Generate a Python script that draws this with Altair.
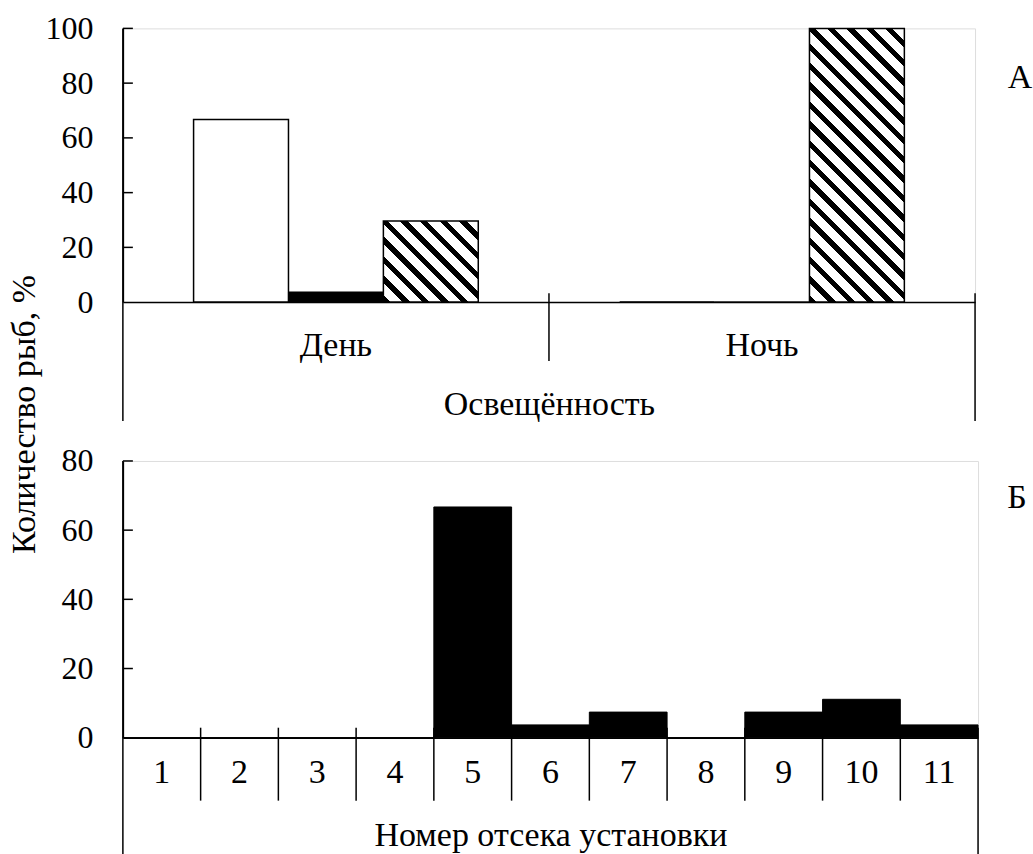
import altair as alt
import pandas as pd

# ---------------- data ----------------
light = ["День", "Ночь"]
series = ["s1", "s2", "s3"]          # white, black, hatched
day_vals = [66.7, 3.7, 29.6]
night_vals = [0.0, 0.0, 100.0]
top_ticks = [20, 40, 60, 80, 100]
top_labels = [0, 20, 40, 60, 80, 100]

sections = ["1", "2", "3", "4", "5", "6", "7", "8", "9", "10", "11"]
section_vals = [0.0, 0.0, 0.0, 0.0, 66.7, 3.7, 7.4, 0.0, 7.4, 11.1, 3.7]
bottom_ticks = [20, 40, 60, 80]
bottom_labels = [0, 20, 40, 60, 80]

FONT = "Liberation Serif"
FS = 34      # titles / category labels
FT = 32      # y tick labels

W1, H1 = 853, 274
W2, H2 = 856, 277
OUTER = 0.745

rows = []
for s, v in zip(series, day_vals):
    rows.append({"light": "День", "series": s, "value": v})
for s, v in zip(series, night_vals):
    rows.append({"light": "Ночь", "series": s, "value": v})
df_top = pd.DataFrame(rows)
df_bot = pd.DataFrame({"sec": sections, "value": section_vals})


def hatch(w, h, period=19.0, frac=0.38):
    k = (w + h) / (w * w + h * h)
    x2, y2 = k * w, 1 - k * h
    n = max(1, int(round((w + h) / period)))
    stops = []
    for i in range(n):
        a = i / n
        b = (i + frac) / n
        c = (i + 1) / n
        stops += [
            {"offset": a, "color": "black"},
            {"offset": b, "color": "black"},
            {"offset": b, "color": "white"},
            {"offset": c, "color": "white"},
        ]
    return {"gradient": "linear", "x1": 0, "y1": 1, "x2": x2, "y2": y2, "stops": stops}


bar_w = (W1 / 2) / (3 + 2 * OUTER)
grad_day = hatch(bar_w, day_vals[2] / 100 * H1)
grad_night = hatch(bar_w, night_vals[2] / 100 * H1)

# ---------------- top panel ----------------
x_top = alt.X(
    "light:N", sort=light,
    scale=alt.Scale(domain=light, paddingInner=0, paddingOuter=0),
    axis=alt.Axis(title="Освещённость", labelAngle=0, ticks=False, labelPadding=26,
                  titlePadding=25, domainColor="black", domainWidth=1.5,
                  labelFont=FONT, titleFont=FONT, labelFontSize=FS, titleFontSize=FS,
                  labelColor="black", titleColor="black", titleFontWeight="normal"),
)
xo_top = alt.XOffset("series:N", scale=alt.Scale(domain=series, paddingInner=0, paddingOuter=OUTER))
y_top = alt.Y(
    "value:Q", scale=alt.Scale(domain=[0, 100], nice=False),
    axis=alt.Axis(values=top_labels, ticks=False, grid=False, labelPadding=30,
                  domainColor="black", domainWidth=1.5,
                  labelFont=FONT, labelFontSize=FT, labelColor="black",
                  title="Количество рыб, %", titleFont=FONT, titleFontSize=FS,
                  titleColor="black", titleFontWeight="normal",
                  titleX=-98, titleY=386, titleAngle=270, titleAlign="center",
                  titleBaseline="middle"),
)

base_top = alt.Chart(df_top).encode(x=x_top, xOffset=xo_top, y=y_top)
white_top = base_top.transform_filter(alt.datum.series == "s1").mark_bar(
    fill="white", stroke="black", strokeWidth=1.5)
black_top = base_top.transform_filter(alt.datum.series == "s2").mark_bar(
    fill="black", stroke="black", strokeWidth=1)
hatch_day = base_top.transform_filter(
    (alt.datum.series == "s3") & (alt.datum.light == "День")).mark_bar(
    fill=grad_day, stroke="black", strokeWidth=1.5)
hatch_night = base_top.transform_filter(
    (alt.datum.series == "s3") & (alt.datum.light == "Ночь")).mark_bar(
    fill=grad_night, stroke="black", strokeWidth=1.5)

sep_top = alt.Chart(pd.DataFrame({"light": light[1:]})).mark_rule(
    color="black", strokeWidth=1.5).encode(
    x=alt.X("light:N", sort=light, bandPosition=0), y=alt.value(265), y2=alt.value(333))
left_top = alt.Chart(pd.DataFrame({"light": light[:1]})).mark_rule(
    color="black", strokeWidth=1.5).encode(
    x=alt.X("light:N", sort=light, bandPosition=0), y=alt.value(0), y2=alt.value(393))
right_top = alt.Chart(pd.DataFrame({"light": light[-1:]})).mark_rule(
    color="black", strokeWidth=1.5).encode(
    x=alt.X("light:N", sort=light, bandPosition=1), y=alt.value(265), y2=alt.value(393))
ticks_top = alt.Chart(pd.DataFrame({"value": top_ticks})).mark_rule(
    color="black", strokeWidth=1.5).encode(
    y=alt.Y("value:Q"), x=alt.value(0), x2=alt.value(10))
lab_top = alt.Chart(pd.DataFrame({"t": ["А"]})).mark_text(
    font=FONT, fontSize=FS, color="black", align="center", baseline="middle").encode(
    text="t:N", x=alt.value(898), y=alt.value(50))

top = alt.layer(white_top, black_top, hatch_day, hatch_night, sep_top, left_top,
                right_top, ticks_top, lab_top).properties(width=W1, height=H1)

# ---------------- bottom panel ----------------
x_bot = alt.X(
    "sec:N", sort=sections,
    scale=alt.Scale(domain=sections, paddingInner=0, paddingOuter=0),
    axis=alt.Axis(title="Номер отсека установки", labelAngle=0, ticks=False,
                  labelPadding=18, titlePadding=29, domainColor="black", domainWidth=1.5,
                  labelFont=FONT, titleFont=FONT, labelFontSize=FS, titleFontSize=FS,
                  labelColor="black", titleColor="black", titleFontWeight="normal"),
)
y_bot = alt.Y(
    "value:Q", scale=alt.Scale(domain=[0, 80], nice=False),
    axis=alt.Axis(values=bottom_labels, ticks=False, grid=False, labelPadding=30,
                  domainColor="black", domainWidth=1.5, title=None,
                  labelFont=FONT, labelFontSize=FT, labelColor="black"),
)
bars_bot = alt.Chart(df_bot).mark_bar(fill="black", stroke="black", strokeWidth=1).encode(
    x=x_bot, y=y_bot)
sep_bot = alt.Chart(pd.DataFrame({"sec": sections[1:]})).mark_rule(
    color="black", strokeWidth=1.5).encode(
    x=alt.X("sec:N", sort=sections, bandPosition=0), y=alt.value(267), y2=alt.value(340))
left_bot = alt.Chart(pd.DataFrame({"sec": sections[:1]})).mark_rule(
    color="black", strokeWidth=1.5).encode(
    x=alt.X("sec:N", sort=sections, bandPosition=0), y=alt.value(0), y2=alt.value(394))
right_bot = alt.Chart(pd.DataFrame({"sec": sections[-1:]})).mark_rule(
    color="black", strokeWidth=1.5).encode(
    x=alt.X("sec:N", sort=sections, bandPosition=1), y=alt.value(267), y2=alt.value(394))
ticks_bot = alt.Chart(pd.DataFrame({"value": bottom_ticks})).mark_rule(
    color="black", strokeWidth=1.5).encode(
    y=alt.Y("value:Q"), x=alt.value(0), x2=alt.value(10))
lab_bot = alt.Chart(pd.DataFrame({"t": ["Б"]})).mark_text(
    font=FONT, fontSize=FS, color="black", align="center", baseline="middle").encode(
    text="t:N", x=alt.value(895), y=alt.value(37))

bottom = alt.layer(bars_bot, sep_bot, left_bot, right_bot, ticks_bot, lab_bot).properties(
    width=W2, height=H2)

chart = alt.vconcat(top, bottom, spacing=159, bounds="flush").properties(
    padding={"left": 7, "top": 11, "right": 0, "bottom": 0}
).configure_view(stroke=None).configure(background="white")

chart.save("out.html", embed_options={"renderer": "svg", "actions": False})
